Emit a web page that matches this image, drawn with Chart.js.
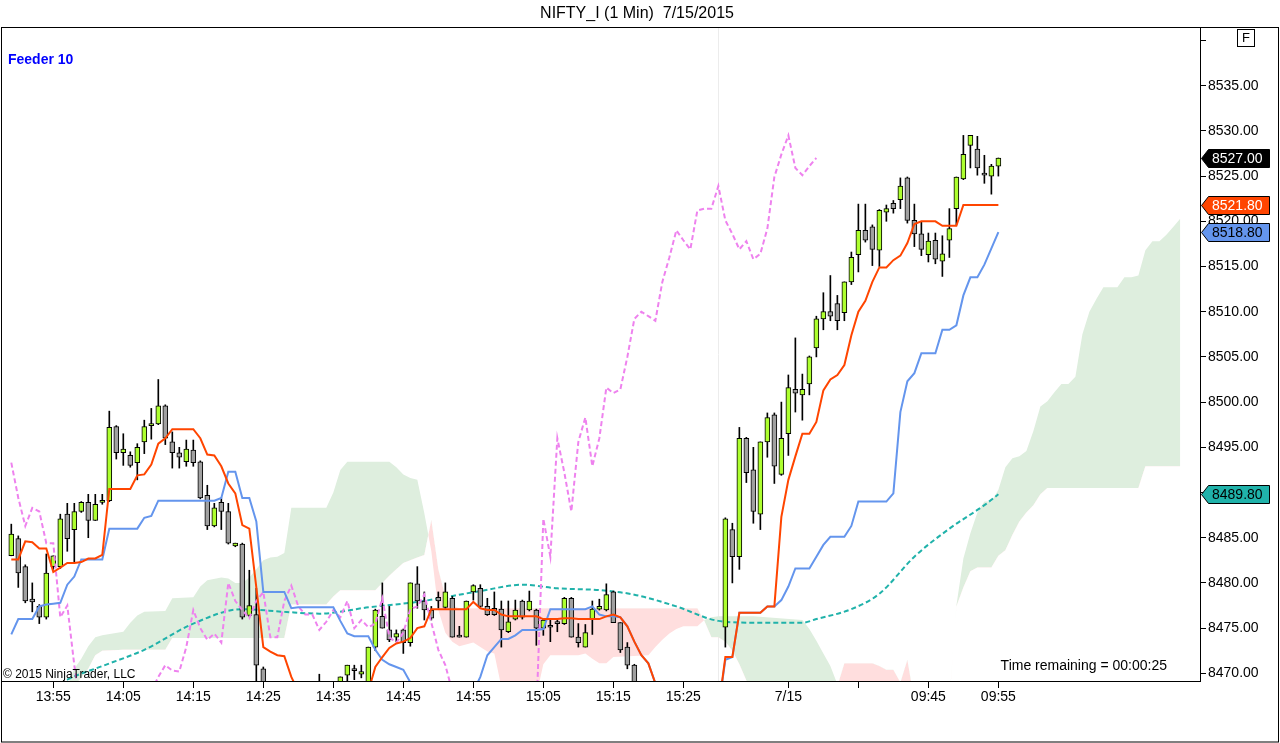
<!DOCTYPE html>
<html>
<head>
<meta charset="utf-8">
<title>NIFTY_I (1 Min) 7/15/2015</title>
<script src="https://cdn.jsdelivr.net/npm/chart.js@4.4.1/dist/chart.umd.min.js"></script>
<style>
  html, body { margin: 0; padding: 0; background: #fff; }
  canvas { display: block; }
</style>
</head>
<body>
<canvas id="chart" width="1280" height="743"></canvas>
<script>
// sessions shown: end of 7/14 and the first 40 minutes of 7/15 (bar close times)
const sessions = [["13:49", "15:30"], ["09:16", "09:55"]];

const tickTimes  = ["13:55", "14:05", "14:15", "14:25", "14:35", "14:45", "14:55", "15:05", "15:15", "15:25", "09:25", "09:35", "09:45", "09:55"];
const tickLabels = ["13:55", "14:05", "14:15", "14:25", "14:35", "14:45", "14:55", "15:05", "15:15", "15:25", "7/15", "", "09:45", "09:55"];
const yTicks = [8470, 8475, 8480, 8485, 8490, 8495, 8500, 8505, 8510, 8515, 8520, 8525, 8530, 8535, 8540];

const opens = [
  8483.0, 8484.9, 8481.8, 8478.2, 8477.4, 8476.2, 8481.8, 8481.8, 8487.6, 8485.9,
  8487.9, 8488.9, 8486.9, 8488.9, 8489.1, 8497.3, 8494.4, 8494.1, 8493.3, 8495.6,
  8497.4, 8497.6, 8499.6, 8495.6, 8494.4, 8493.4, 8494.7, 8493.4, 8489.7, 8486.3,
  8488.9, 8487.9, 8484.1, 8484.3, 8476.4, 8476.5, 8470.5, 8465.5, 8464.0, 8465.0,
  8464.5, 8466.0, 8465.0, 8463.0, 8465.0, 8467.0, 8466.0, 8467.5, 8469.8, 8470.5,
  8469.9, 8468.5, 8472.9, 8476.3, 8474.8, 8474.0, 8474.8, 8473.4, 8479.9, 8478.0,
  8477.0, 8478.4, 8477.3, 8478.3, 8474.1, 8474.0, 8479.0, 8479.4, 8477.4, 8477.2,
  8477.1, 8474.6, 8476.0, 8478.0, 8477.0, 8477.0, 8475.0, 8475.2, 8475.6, 8475.5,
  8478.3, 8474.0, 8472.9, 8476.0, 8477.1, 8477.0, 8479.0, 8475.6, 8472.9, 8470.9,
  8468.0, 8466.0, 8465.0, 8464.0, 8463.5, 8464.0, 8463.0, 8462.5, 8463.5, 8464.0,
  8464.5, 8465.0,
  8475.1, 8485.9, 8482.9, 8496.0, 8492.5, 8487.6, 8495.6, 8498.6, 8492.0, 8496.5,
  8501.4, 8500.8, 8502.0, 8506.0, 8509.2, 8510.0, 8510.9, 8509.9, 8513.3, 8516.3,
  8519.0, 8519.4, 8516.8, 8521.0, 8522.0, 8522.4, 8524.8, 8520.1, 8518.6, 8516.3,
  8517.9, 8515.6, 8517.9, 8521.4, 8524.7, 8528.4, 8528.0, 8525.2, 8525.0, 8526.1
];
const highs = [
  8486.5, 8485.2, 8482.0, 8480.0, 8477.6, 8483.2, 8483.0, 8487.6, 8488.8, 8488.8,
  8489.0, 8489.8, 8489.8, 8489.8, 8499.0, 8497.4, 8496.5, 8494.5, 8495.4, 8498.0,
  8499.3, 8502.5, 8499.7, 8496.7, 8495.0, 8495.8, 8495.8, 8493.5, 8490.8, 8488.8,
  8489.4, 8488.8, 8484.4, 8484.4, 8481.4, 8479.4, 8470.7, 8467.0, 8466.0, 8466.5,
  8467.0, 8467.5, 8466.0, 8465.5, 8469.9, 8468.0, 8468.5, 8469.6, 8470.9, 8470.9,
  8470.9, 8472.9, 8477.1, 8480.0, 8477.4, 8474.8, 8474.9, 8480.0, 8481.8, 8479.0,
  8477.4, 8479.0, 8480.0, 8478.5, 8475.2, 8478.0, 8479.8, 8479.8, 8478.3, 8479.0,
  8478.0, 8478.0, 8478.1, 8478.1, 8479.1, 8477.1, 8476.0, 8475.9, 8475.9, 8478.4,
  8478.4, 8475.5, 8475.4, 8478.0, 8478.2, 8479.9, 8479.1, 8475.6, 8473.4, 8471.0,
  8468.5, 8467.0, 8466.5, 8465.0, 8465.0, 8465.0, 8464.5, 8464.0, 8465.0, 8465.5,
  8466.0, 8466.5,
  8487.2, 8486.6, 8497.2, 8496.1, 8495.0, 8495.6, 8498.8, 8498.8, 8500.0, 8503.0,
  8507.1, 8503.1, 8505.1, 8509.5, 8512.1, 8514.0, 8511.8, 8513.3, 8516.6, 8521.9,
  8521.9, 8519.6, 8521.3, 8521.8, 8522.3, 8524.8, 8524.9, 8521.9, 8520.0, 8518.7,
  8518.7, 8518.4, 8521.4, 8524.9, 8529.5, 8529.5, 8529.4, 8527.3, 8526.3, 8527.0
];
const lows = [
  8483.0, 8479.5, 8477.8, 8476.8, 8475.5, 8476.0, 8481.5, 8481.6, 8483.5, 8482.2,
  8487.8, 8485.0, 8486.9, 8488.7, 8489.0, 8493.7, 8493.0, 8492.8, 8491.4, 8494.3,
  8495.9, 8497.5, 8495.3, 8492.7, 8492.7, 8492.9, 8492.9, 8489.3, 8485.9, 8486.2,
  8485.9, 8484.3, 8484.0, 8476.0, 8476.3, 8468.5, 8464.0, 8463.0, 8462.5, 8463.5,
  8463.0, 8464.5, 8462.0, 8462.0, 8464.5, 8465.0, 8465.5, 8467.0, 8468.8, 8469.3,
  8469.5, 8468.3, 8472.5, 8475.0, 8473.5, 8473.5, 8472.2, 8473.0, 8477.2, 8475.9,
  8475.9, 8477.2, 8477.2, 8474.0, 8474.0, 8474.0, 8478.1, 8477.3, 8476.4, 8476.4,
  8472.9, 8474.5, 8475.9, 8476.0, 8476.9, 8473.1, 8474.2, 8473.5, 8474.6, 8475.4,
  8474.0, 8472.9, 8472.9, 8474.3, 8477.0, 8476.9, 8475.6, 8472.3, 8470.5, 8467.5,
  8465.0, 8464.0, 8463.0, 8463.0, 8462.5, 8462.5, 8462.0, 8461.5, 8462.5, 8463.0,
  8463.5, 8464.0,
  8472.9, 8480.0, 8481.5, 8491.1, 8486.6, 8485.9, 8493.9, 8491.0, 8491.9, 8494.1,
  8498.9, 8498.0, 8500.8, 8505.0, 8508.0, 8509.0, 8508.0, 8509.0, 8513.0, 8514.4,
  8517.7, 8515.1, 8515.0, 8520.0, 8520.9, 8521.4, 8519.8, 8517.2, 8516.2, 8515.5,
  8515.3, 8513.9, 8516.0, 8519.6, 8524.6, 8525.9, 8525.1, 8524.2, 8523.0, 8525.0
];
const closes = [
  8485.4, 8481.1, 8478.0, 8477.9, 8476.2, 8481.1, 8483.0, 8487.1, 8484.9, 8487.9,
  8488.9, 8486.9, 8488.7, 8489.1, 8497.2, 8494.4, 8494.8, 8493.0, 8495.0, 8497.3,
  8497.6, 8499.6, 8496.0, 8494.4, 8493.9, 8494.8, 8493.3, 8489.4, 8486.3, 8488.3,
  8487.9, 8484.4, 8484.4, 8476.2, 8477.5, 8470.9, 8465.5, 8464.0, 8465.0, 8464.5,
  8466.0, 8465.0, 8463.0, 8465.0, 8467.0, 8466.0, 8468.0, 8469.6, 8470.9, 8470.3,
  8470.2, 8472.9, 8477.0, 8475.0, 8473.7, 8474.4, 8473.4, 8480.0, 8478.0, 8477.0,
  8476.1, 8478.0, 8479.0, 8474.0, 8474.0, 8478.0, 8479.7, 8477.4, 8476.5, 8476.5,
  8474.8, 8475.7, 8477.0, 8476.2, 8478.0, 8475.0, 8475.9, 8475.1, 8475.5, 8478.3,
  8474.0, 8473.4, 8474.5, 8477.1, 8477.4, 8478.7, 8475.6, 8472.6, 8470.9, 8468.0,
  8466.0, 8465.0, 8464.0, 8463.5, 8464.0, 8463.0, 8462.5, 8463.5, 8464.0, 8464.5,
  8465.0, 8465.5,
  8487.1, 8482.9, 8496.0, 8492.2, 8487.9, 8495.6, 8498.3, 8492.9, 8496.0, 8501.6,
  8501.0, 8501.4, 8505.0, 8509.2, 8510.0, 8509.5, 8509.0, 8513.3, 8516.0, 8519.0,
  8517.9, 8516.9, 8521.2, 8521.4, 8521.4, 8523.9, 8520.1, 8518.6, 8516.9, 8517.8,
  8515.8, 8516.4, 8519.2, 8524.9, 8527.4, 8529.5, 8525.9, 8525.1, 8526.1, 8527.0
];

// conversion line (red) and base line (blue), one value per bar
const tenkan = [
  8482.6, 8482.6, 8484.6, 8484.5, 8483.8, 8483.8, 8481.2, 8481.7, 8482.2, 8482.2,
  8482.3, 8482.7, 8482.7, 8483.1, 8490.4, 8490.4, 8490.4, 8490.4, 8491.9, 8492.0,
  8493.1, 8495.4, 8496.0, 8497.0, 8497.0, 8497.0, 8497.0, 8496.0, 8494.2, 8494.1,
  8492.9, 8491.0, 8489.9, 8486.4, 8486.0, 8479.5, 8472.9, 8472.4, 8472.0, 8471.9,
  8469.6, 8468.0, 8467.0, 8466.5, 8466.5, 8466.5, 8466.5, 8466.8, 8467.0, 8467.2,
  8467.4, 8468.0, 8470.7, 8471.8, 8472.8, 8473.3, 8473.5, 8473.9, 8475.0, 8475.2,
  8477.1, 8477.1, 8477.1, 8477.1, 8477.1, 8477.1, 8477.9, 8477.2, 8477.0, 8477.0,
  8476.5, 8476.3, 8476.3, 8476.3, 8476.3, 8476.3, 8476.0, 8476.0, 8476.0, 8476.1,
  8476.1, 8476.0, 8476.0, 8476.0, 8476.0, 8476.3, 8476.5, 8476.2, 8475.2, 8473.5,
  8472.0, 8471.1, 8468.9, 8467.5, 8466.8, 8466.5, 8466.2, 8466.0, 8465.8, 8465.8,
  8465.8, 8466.0,
  8471.8, 8471.8, 8476.7, 8476.7, 8476.7, 8476.7, 8477.4, 8477.4, 8487.3, 8491.4,
  8494.0, 8496.5, 8496.5, 8497.8, 8501.3, 8502.5, 8503.0, 8504.1, 8507.4, 8510.0,
  8511.2, 8513.3, 8514.9, 8514.9, 8515.7, 8516.2, 8517.6, 8519.7, 8520.0, 8520.0,
  8520.0, 8519.5, 8519.5, 8519.5, 8521.8, 8521.8, 8521.8, 8521.8, 8521.8, 8521.8
];
const kijun = [
  8474.3, 8476.0, 8476.0, 8476.0, 8477.4, 8477.6, 8477.7, 8477.8, 8479.8, 8480.7,
  8482.6, 8482.6, 8482.6, 8482.6, 8486.0, 8486.0, 8486.0, 8486.0, 8486.0, 8487.2,
  8487.4, 8489.1, 8489.1, 8489.1, 8489.1, 8489.1, 8489.1, 8489.1, 8489.1, 8489.1,
  8489.4, 8492.3, 8492.3, 8489.4, 8489.4, 8486.8, 8479.0, 8479.0, 8479.0, 8479.0,
  8477.2, 8477.3, 8477.3, 8477.3, 8477.3, 8477.3, 8477.3, 8475.8, 8474.4, 8474.1,
  8474.1, 8474.1, 8472.6, 8471.5, 8471.0, 8470.7, 8470.4, 8469.0, 8467.5, 8467.0,
  8467.0, 8467.0, 8467.0, 8467.0, 8467.0, 8467.0, 8468.0, 8469.6, 8472.0, 8472.9,
  8473.8, 8473.8, 8474.2, 8474.8, 8474.8, 8474.8, 8474.9, 8477.1, 8477.1, 8477.1,
  8477.1, 8477.1, 8477.1, 8477.4, 8476.5, 8476.3, 8476.3, 8476.2, 8475.2, 8473.5,
  8472.0, 8471.1, 8468.9, 8467.5, 8466.8, 8466.5, 8466.2, 8466.0, 8465.8, 8465.8,
  8465.8, 8466.0,
  8471.5, 8471.8, 8476.7, 8476.7, 8476.7, 8476.7, 8477.4, 8477.4, 8478.1, 8479.6,
  8481.6, 8481.6, 8481.6, 8482.9, 8484.2, 8485.1, 8485.1, 8485.1, 8486.3, 8489.0,
  8489.0, 8489.0, 8489.0, 8489.0, 8489.9, 8498.9, 8502.3, 8503.2, 8505.4, 8505.4,
  8505.4, 8508.0, 8508.0, 8508.5, 8511.8, 8513.8, 8513.8, 8515.2, 8517.0, 8518.8
];

// cloud edges (leading span A, leading span B) read at these bar numbers
const cloudIdx = [
  8, 9, 10, 11, 12, 13, 16, 17, 18, 19, 22, 23, 26, 27, 28, 30, 31, 32, 33, 34,
  35, 36, 37, 38, 39, 40, 45, 46, 47, 48, 52, 53, 54, 55, 56, 57, 58, 59, 60, 61,
  62, 63, 64, 66, 68, 69, 70, 75, 76, 77, 81, 82, 83, 84, 85, 86, 91, 92, 93, 94,
  95, 96, 98, 99, 100, 101, 102, 103, 104, 105, 106, 113, 114, 115, 116, 117, 118, 119, 123, 124,
  125, 126, 127, 128, 129, 134, 135, 136, 137, 138, 139, 140, 141, 142, 143, 144, 145, 146, 147, 148,
  149, 150, 151, 152, 153, 154, 155, 156, 158, 159, 160, 161, 162, 163, 164, 165, 166, 167
];
const spanA = [
  8468.6, 8470.5, 8471.6, 8473.0, 8474.0, 8474.2, 8474.6, 8475.6, 8476.4, 8476.8, 8476.9, 8478.3, 8478.4, 8479.6, 8480.3, 8480.6, 8480.5, 8480.0, 8480.0, 8480.6,
  8481.5, 8482.5, 8482.8, 8482.9, 8483.3, 8488.3, 8488.3, 8490.0, 8492.5, 8493.4, 8493.4, 8493.4, 8493.4, 8492.8, 8492.0, 8491.6, 8491.4, 8487.7, 8483.5, 8477.0,
  8474.5, 8473.5, 8473.0, 8473.4, 8472.4, 8472.2, 8468.5, 8467.5, 8471.0, 8472.0, 8472.0, 8472.2, 8471.6, 8471.1, 8471.1, 8471.8, 8472.0, 8472.9, 8473.7, 8474.4,
  8474.9, 8475.2, 8475.2, 8475.9, 8476.2, 8476.3, 8476.3, 8476.3, 8476.3, 8476.3, 8476.3, 8475.9, 8474.9, 8473.6, 8472.2, 8470.8, 8468.8, 8467.0, 8466.8, 8466.8,
  8466.8, 8466.8, 8466.8, 8466.8, 8466.8, 8466.8, 8477.5, 8482.7, 8485.5, 8487.8, 8489.0, 8489.0, 8490.3, 8492.8, 8493.8, 8494.0, 8494.6, 8496.8, 8499.5, 8500.1,
  8501.1, 8502.0, 8502.0, 8502.8, 8507.5, 8510.0, 8511.4, 8512.7, 8512.7, 8513.8, 8513.8, 8514.0, 8516.8, 8517.8, 8517.8, 8518.5, 8519.4, 8520.3
];
const spanB = [
  8468.4, 8468.6, 8469.5, 8470.5, 8472.0, 8472.5, 8472.6, 8472.6, 8472.6, 8472.6, 8472.6, 8473.9, 8473.9, 8473.9, 8473.9, 8473.9, 8473.9, 8473.9, 8473.9, 8473.9,
  8473.9, 8473.9, 8473.9, 8473.9, 8473.9, 8477.6, 8477.6, 8478.5, 8479.2, 8479.2, 8479.2, 8480.0, 8480.8, 8481.5, 8482.2, 8482.5, 8482.8, 8483.1, 8487.0, 8481.5,
  8478.5, 8477.5, 8477.2, 8477.2, 8477.2, 8477.2, 8477.2, 8477.2, 8477.2, 8477.2, 8477.2, 8477.2, 8477.2, 8477.2, 8477.2, 8477.2, 8477.2, 8477.2, 8477.2, 8477.2,
  8477.2, 8477.2, 8477.2, 8475.8, 8474.0, 8474.0, 8473.5, 8472.5, 8471.0, 8469.2, 8467.5, 8467.0, 8467.0, 8467.0, 8467.0, 8467.0, 8468.6, 8471.1, 8471.1, 8470.8,
  8470.4, 8470.4, 8469.0, 8471.5, 8467.0, 8467.0, 8477.4, 8479.5, 8481.3, 8481.7, 8481.7, 8481.7, 8483.0, 8483.6, 8485.3, 8486.8, 8487.8, 8488.6, 8489.8, 8490.5,
  8490.5, 8490.5, 8490.5, 8490.5, 8490.5, 8490.5, 8490.5, 8490.5, 8490.5, 8490.5, 8490.5, 8490.5, 8492.9, 8492.9, 8492.9, 8492.9, 8492.9, 8492.9
];

// teal dashed average, read at these bar numbers
const tealIdx = [7, 8, 13, 19, 26, 33, 39, 44, 51, 58, 67, 73, 78, 84, 89, 95, 101, 106, 113, 115, 120, 124, 129, 134, 139, 141];
const tealVal = [8468.8, 8469.3, 8470.8, 8472.6, 8475.5, 8477.1, 8476.8, 8476.6, 8477.3, 8477.9, 8479.1, 8479.8, 8479.4, 8479.2, 8478.7, 8477.4, 8475.8, 8475.6, 8475.6, 8476.0, 8477.1, 8478.8, 8482.9, 8486.0, 8488.6, 8489.8];

const LAG = 26;

// ---------- build bar list ----------
function minutesOf(t) {
  const p = t.split(":");
  return Number(p[0]) * 60 + Number(p[1]);
}
function pad(n) { return String(n).padStart(2, "0"); }

const times = [];
sessions.forEach(([from, to]) => {
  for (let m = minutesOf(from); m <= minutesOf(to); m++) {
    times.push(pad(Math.floor(m / 60)) + ":" + pad(m % 60));
  }
});

const FONT = "'Liberation Sans', Arial, sans-serif";
const UP = "#ADFF2F";
const DOWN = "#A0A0A0";

const bodyColors = closes.map((c, i) => (c >= opens[i] ? UP : DOWN));
const chikou = [];
closes.forEach((c, i) => { if (i >= LAG) chikou.push({ x: i - LAG, y: c }); });

const decor = {
  id: "decor",
  beforeDatasetsDraw(chart) {
    const { ctx, chartArea, scales } = chart;
    // session break line
    const xb = Math.round(scales.x.getPixelForValue(times.indexOf("15:30"))) + 0.5;
    ctx.save();
    ctx.strokeStyle = "#ececec";
    ctx.lineWidth = 1;
    ctx.beginPath();
    ctx.moveTo(xb, chartArea.top);
    ctx.lineTo(xb, chartArea.bottom);
    ctx.stroke();
    ctx.restore();
  },
  afterDraw(chart) {
    const { ctx, scales } = chart;
    ctx.save();
    ctx.fillStyle = "#000";
    ctx.font = "16px " + FONT;
    ctx.textAlign = "center";
    ctx.textBaseline = "middle";
    ctx.fillText("NIFTY_I (1 Min)  7/15/2015", 637, 14);

    ctx.textAlign = "left";
    ctx.fillStyle = "#0000FF";
    ctx.font = "bold 14px " + FONT;
    ctx.fillText("Feeder 10", 8, 60);

    ctx.fillStyle = "#000";
    ctx.font = "12px " + FONT;
    ctx.fillText("\u00A9 2015 NinjaTrader, LLC", 3, 675);

    ctx.font = "14px " + FONT;
    ctx.textAlign = "right";
    ctx.fillText("Time remaining = 00:00:25", 1167, 666);

    // frame
    ctx.strokeStyle = "#000";
    ctx.lineWidth = 1;
    ctx.strokeRect(1.5, 27.5, 1277, 714.5);

    // "F" box
    ctx.strokeRect(1237.5, 29.5, 17, 17);
    ctx.textAlign = "center";
    ctx.font = "13px " + FONT;
    ctx.fillText("F", 1246, 38.5);

    // last-value markers on the price axis
    const markers = [
      { v: closes[closes.length - 1], bg: "#000000", fg: "#FFFFFF" },
      { v: tenkan[tenkan.length - 1], bg: "#FF4500", fg: "#FFFFFF" },
      { v: kijun[kijun.length - 1], bg: "#6495ED", fg: "#000000" },
      { v: tealVal[tealVal.length - 1], bg: "#20B2AA", fg: "#000000" }
    ];
    ctx.font = "14px " + FONT;
    ctx.textAlign = "left";
    markers.forEach(m => {
      const y = Math.round(scales.y.getPixelForValue(m.v)) + 0.5;
      ctx.beginPath();
      ctx.moveTo(1201.5, y);
      ctx.lineTo(1208.5, y - 9);
      ctx.lineTo(1269.5, y - 9);
      ctx.lineTo(1269.5, y + 9);
      ctx.lineTo(1208.5, y + 9);
      ctx.closePath();
      ctx.fillStyle = m.bg;
      ctx.fill();
      ctx.strokeStyle = "#000";
      ctx.stroke();
      ctx.fillStyle = m.fg;
      ctx.fillText(m.v.toFixed(2), 1212, y + 1);
    });
    ctx.restore();
  }
};

new Chart(document.getElementById("chart").getContext("2d"), {
  type: "bar",
  data: {
    datasets: [
      {
        type: "line",
        label: "Senkou A",
        order: 12,
        data: cloudIdx.map((x, k) => ({ x: x, y: spanA[k] })),
        borderColor: "rgba(0,0,0,0)",
        borderWidth: 0,
        pointRadius: 0,
        fill: { target: "+1", above: "rgb(222,238,222)", below: "rgb(255,222,222)" }
      },
      {
        type: "line",
        label: "Senkou B",
        order: 13,
        data: cloudIdx.map((x, k) => ({ x: x, y: spanB[k] })),
        borderColor: "rgba(0,0,0,0)",
        borderWidth: 0,
        pointRadius: 0,
        fill: false
      },
      {
        type: "line",
        label: "Average",
        order: 8,
        data: tealIdx.map((x, k) => ({ x: x, y: tealVal[k] })),
        borderColor: "#20B2AA",
        borderWidth: 2,
        borderDash: [5, 3],
        pointRadius: 0,
        cubicInterpolationMode: "monotone",
        fill: false
      },
      {
        type: "bar",
        label: "Wick",
        order: 6,
        grouped: false,
        data: times.map((t, i) => ({ x: i, y: [lows[i], highs[i]] })),
        backgroundColor: "#000",
        barThickness: 1,
        borderWidth: 0
      },
      {
        type: "bar",
        label: "Body",
        order: 5,
        grouped: false,
        data: times.map((t, i) => ({ x: i, y: [opens[i], closes[i]] })),
        backgroundColor: bodyColors,
        borderColor: "#000",
        borderWidth: 1,
        borderSkipped: false,
        barThickness: 5,
        minBarLength: 2
      },
      {
        type: "line",
        label: "Chikou",
        order: 4,
        data: chikou,
        borderColor: "#EE82EE",
        borderWidth: 2,
        borderDash: [5, 3],
        pointRadius: 0,
        fill: false
      },
      {
        type: "line",
        label: "Kijun",
        order: 3,
        data: times.map((t, i) => ({ x: i, y: kijun[i] })),
        borderColor: "#6495ED",
        borderWidth: 2,
        pointRadius: 0,
        fill: false
      },
      {
        type: "line",
        label: "Tenkan",
        order: 2,
        data: times.map((t, i) => ({ x: i, y: tenkan[i] })),
        borderColor: "#FF4500",
        borderWidth: 2,
        pointRadius: 0,
        fill: false
      }
    ]
  },
  options: {
    responsive: false,
    animation: false,
    devicePixelRatio: 1,
    layout: { padding: { top: 28, left: 1, right: 0, bottom: 0 } },
    plugins: { legend: { display: false }, tooltip: { enabled: false }, title: { display: false } },
    scales: {
      x: {
        type: "linear",
        min: -1.47,
        max: 169.8,
        offset: false,
        afterBuildTicks: s => { s.ticks = tickTimes.map(t => ({ value: times.indexOf(t) })); },
        afterFit: s => { s.height = 62; },
        ticks: {
          autoSkip: false,
          maxRotation: 0,
          padding: 1,
          color: "#000",
          font: { family: FONT, size: 14 },
          callback: (v, k) => tickLabels[k]
        },
        grid: { offset: false, drawOnChartArea: false, drawTicks: true, tickLength: 7, color: "#000" },
        border: { color: "#000", width: 1 }
      },
      y: {
        position: "right",
        min: 8469.15,
        max: 8541.38,
        afterBuildTicks: s => { s.ticks = yTicks.map(v => ({ value: v })); },
        afterFit: s => { s.width = 80; },
        ticks: {
          padding: 2,
          color: "#000",
          font: { family: FONT, size: 14 },
          callback: v => (v === 8540 ? "" : v.toFixed(2))
        },
        grid: { drawOnChartArea: false, drawTicks: true, tickLength: 6, color: "#000" },
        border: { color: "#000", width: 1 }
      }
    }
  },
  plugins: [decor]
});
</script>
</body>
</html>
